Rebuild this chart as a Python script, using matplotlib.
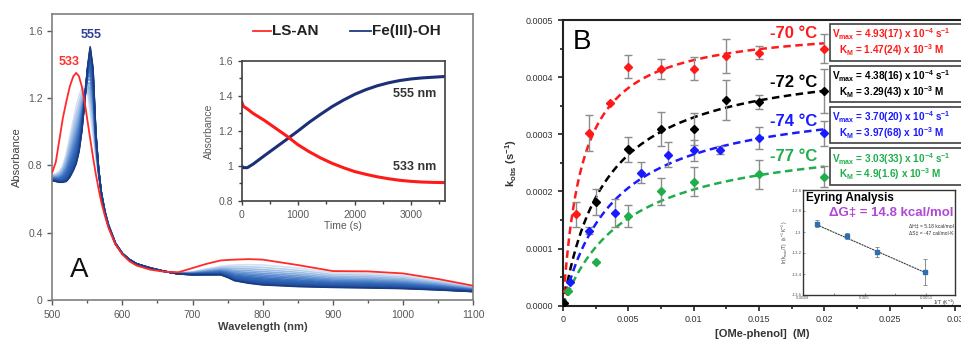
import numpy as np
import matplotlib
matplotlib.use('Agg')
import matplotlib.pyplot as plt
from matplotlib.patches import Rectangle
from matplotlib.colors import LinearSegmentedColormap
from matplotlib.ticker import MultipleLocator, FixedLocator

plt.rcParams['font.family'] = ['Liberation Sans', 'DejaVu Sans']
plt.rcParams['mathtext.default'] = 'regular'

# ---------------- panel A : UV-vis spectra ----------------
wl = [500, 505, 510, 515, 520, 525, 530, 534, 538, 542, 546, 550, 554, 558, 562, 566,
      570, 575, 580, 590, 600, 610, 620, 640, 660, 680, 700, 720, 740, 750, 760, 780,
      800, 850, 900, 950, 1000, 1050, 1100]
abs_lsan = [0.76, 0.82, 0.95, 1.08, 1.18, 1.27, 1.33, 1.35, 1.33, 1.27, 1.18, 1.07, 0.96,
            0.85, 0.75, 0.66, 0.58, 0.50, 0.43, 0.33, 0.27, 0.23, 0.205, 0.18, 0.168, 0.165,
            0.19, 0.215, 0.235, 0.238, 0.24, 0.243, 0.24, 0.208, 0.172, 0.17, 0.158, 0.125, 0.085]
abs_first = [0.745, 0.75, 0.765, 0.80, 0.87, 0.97, 1.07, 1.15, 1.21, 1.26, 1.275, 1.24, 1.12,
             0.98, 0.85, 0.74, 0.64, 0.53, 0.455, 0.34, 0.278, 0.24, 0.215, 0.188, 0.17, 0.16,
             0.168, 0.185, 0.20, 0.205, 0.208, 0.21, 0.208, 0.19, 0.162, 0.158, 0.145, 0.115, 0.078]
abs_feoh = [0.71, 0.705, 0.70, 0.70, 0.705, 0.73, 0.77, 0.81, 0.88, 1.0, 1.17, 1.37, 1.505,
            1.38, 1.0, 0.78, 0.63, 0.52, 0.44, 0.335, 0.275, 0.24, 0.215, 0.19, 0.17, 0.155,
            0.15, 0.15, 0.15, 0.135, 0.115, 0.10, 0.09, 0.08, 0.075, 0.072, 0.068, 0.06, 0.05]
# conversion of each recorded trace (first light blue -> Fe(III)-OH)
trace_frac = [0, 0.12, 0.23, 0.33, 0.42, 0.50, 0.57, 0.64, 0.70, 0.75, 0.80, 0.84,
              0.88, 0.91, 0.94, 0.96, 0.98, 1.0]

# inset kinetics
t_kin = [0, 30, 100, 200, 400, 600, 800, 1000, 1200, 1400, 1600, 1800, 2000, 2200, 2400,
         2600, 2800, 3000, 3200, 3400, 3600]
a533 = [1.365, 1.34, 1.325, 1.30, 1.26, 1.215, 1.17, 1.12, 1.08, 1.045, 1.015, 0.99, 0.968,
        0.952, 0.938, 0.927, 0.918, 0.912, 0.908, 0.906, 0.905]
a555 = [1.0, 0.99, 0.99, 1.01, 1.058, 1.105, 1.152, 1.20, 1.25, 1.295, 1.338, 1.375, 1.408,
        1.435, 1.457, 1.474, 1.487, 1.496, 1.502, 1.506, 1.51]

# ---------------- panel B : saturation kinetics ----------------
temps = ['-70 °C', '-72 °C', '-74 °C', '-77 °C']
cols = ['#ff1a1a', '#000000', '#1a1aff', '#1fae4b']
vmax = [4.93e-4, 4.38e-4, 3.70e-4, 3.03e-4]
km = [1.47e-3, 3.29e-3, 3.97e-3, 4.9e-3]
vmax_txt = ['4.93(17)', '4.38(16)', '3.70(20)', '3.03(33)']
km_txt = ['1.47(24)', '3.29(43)', '3.97(68)', '4.9(1.6)']

conc_70 = [0.0003, 0.001, 0.002, 0.0036, 0.005, 0.0075, 0.01, 0.0125, 0.015, 0.02]
k_70 = [0.000025, 0.00016, 0.000302, 0.000354, 0.000418, 0.000414, 0.000415, 0.000437, 0.000443, 0.00045]
e_70 = [0, 0.000022, 0.000032, 0, 0.00002, 0.000018, 0.00002, 0.00003, 0.000012, 0.000026]

conc_72 = [0.0001, 0.0025, 0.005, 0.0075, 0.01, 0.0125, 0.015, 0.02]
k_72 = [0.000005, 0.000182, 0.000274, 0.000309, 0.00031, 0.00036, 0.000357, 0.000376]
e_72 = [0, 0.000023, 0.000022, 0.00003, 0.000028, 0.000035, 0.000012, 0.000038]

conc_74 = [0.0005, 0.002, 0.004, 0.006, 0.008, 0.01, 0.012, 0.015, 0.02]
k_74 = [0.000042, 0.000131, 0.000162, 0.000233, 0.000264, 0.000272, 0.000272, 0.000294, 0.000302]
e_74 = [0, 0.000006, 0.000025, 0.000019, 0.000022, 0.000018, 0.000007, 0.000019, 0.000022]

conc_77 = [0.0004, 0.0025, 0.005, 0.0075, 0.01, 0.015, 0.02]
k_77 = [0.000025, 0.000077, 0.000157, 0.0002, 0.000217, 0.00023, 0.000226]
e_77 = [0, 0, 0.00002, 0.000023, 0.000025, 0.000025, 0.000018]

# Eyring inset
inv_T = [0.004922, 0.004971, 0.005021, 0.005098]
ln_k = [-12.92, -13.04, -13.19, -13.38]
ln_err = [0.03, 0.03, 0.045, 0.12]
eyr_fit_x = [0.004922, 0.005098]
eyr_fit_y = [-12.93, -13.385]

W, H = 961, 341
fig = plt.figure(figsize=(W / 100, H / 100), dpi=100)

def fbox(x0, y0, x1, y1):
    # pixel box (top-left origin) -> figure fraction rect
    return [x0 / W, 1 - y1 / H, (x1 - x0) / W, (y1 - y0) / H]

# ================= panel A =================
gA = '#595959'
axA = fig.add_axes(fbox(52.3, 14, 473, 300))
first = np.array(abs_first)
last = np.array(abs_feoh)
fan = LinearSegmentedColormap.from_list('fan', ['#d2e0f2', '#86addf', '#3a70c0', '#1d4c9c'])
for f in trace_frac:
    c = fan(f) if f < 1 else '#1c3a80'
    axA.plot(wl, (1 - f) * first + f * last, color=c, lw=1.2, zorder=2)
axA.plot(wl, abs_lsan, color='#ff2a2a', lw=1.3, zorder=3)
axA.set_xlim(500, 1100)
axA.set_ylim(0, 1.7)
axA.xaxis.set_major_locator(MultipleLocator(100))
axA.xaxis.set_minor_locator(MultipleLocator(50))
axA.yaxis.set_major_locator(FixedLocator([0, 0.4, 0.8, 1.2, 1.6]))
axA.set_yticklabels(['0', '0.4', '0.8', '1.2', '1.6'])
axA.tick_params(which='both', direction='out', color=gA, labelcolor=gA, labelsize=7.5, width=1)
axA.tick_params(which='major', length=3.5)
axA.tick_params(which='minor', length=2.5)
for s in axA.spines.values():
    s.set_color('#7f7f7f')
    s.set_linewidth(1.2)
axA.set_xlabel('Wavelength (nm)', fontsize=8, color='#404040', fontweight='bold', labelpad=2)
axA.set_ylabel('Absorbance', fontsize=8, color='#404040', labelpad=4)
axA.text(524, 1.415, '533', color='#ff3030', fontsize=9, fontweight='bold', ha='center', va='center')
axA.text(556, 1.578, '555', color='#2f3f8f', fontsize=9, fontweight='bold', ha='center', va='center')
axA.text(538, 0.18, 'A', fontsize=20, ha='center', va='center', color='#111111')
# legend
axA.plot([786, 812], [1.6, 1.6], color='#ff2a2a', lw=1.3)
axA.text(814, 1.6, 'LS-AN', fontsize=11, fontweight='bold', color='#222222', va='center')
axA.plot([925, 955], [1.6, 1.6], color='#1c3a80', lw=1.3)
axA.text(956, 1.6, 'Fe(III)-OH', fontsize=11, fontweight='bold', color='#222222', va='center')

# inset kinetics
axI = fig.add_axes(fbox(241.7, 60.7, 445, 201))
axI.plot(t_kin, a555, color='#1c2f78', lw=2.2)
axI.plot(t_kin, a533, color='#ff1a1a', lw=2.2)
axI.set_xlim(0, 3600)
axI.set_ylim(0.8, 1.6)
axI.xaxis.set_major_locator(MultipleLocator(1000))
axI.xaxis.set_minor_locator(MultipleLocator(500))
axI.yaxis.set_major_locator(FixedLocator([0.8, 1.0, 1.2, 1.4, 1.6]))
axI.yaxis.set_minor_locator(MultipleLocator(0.1))
axI.set_yticklabels(['0.8', '1', '1.2', '1.4', '1.6'])
axI.tick_params(which='both', direction='out', color='#404040', labelcolor=gA, labelsize=7.5, width=1)
axI.tick_params(which='major', length=3)
axI.tick_params(which='minor', length=2)
for s in axI.spines.values():
    s.set_color('#404040')
    s.set_linewidth(1.2)
axI.set_xlabel('Time (s)', fontsize=7.5, color=gA, labelpad=1)
axI.set_ylabel('Absorbance', fontsize=7.5, color=gA, labelpad=3)
axI.text(3060, 1.41, '555 nm', fontsize=9, fontweight='bold', color='#333333', ha='center', va='center')
axI.text(3060, 0.995, '533 nm', fontsize=9, fontweight='bold', color='#333333', ha='center', va='center')

# ================= panel B =================
axB = fig.add_axes(fbox(563, 20, 961, 305.7))
series = [(conc_70, k_70, e_70), (conc_72, k_72, e_72), (conc_74, k_74, e_74), (conc_77, k_77, e_77)]
xfit = np.linspace(0, 0.02, 200)
for (cx, ky, ey), c, vm, kmm in zip(series, cols, vmax, km):
    axB.plot(xfit, vm * xfit / (kmm + xfit), color=c, lw=1.8, ls=(0, (3, 1.8)), zorder=2)
    axB.errorbar(cx, ky, yerr=ey, fmt='none', ecolor='#8c8c8c', elinewidth=1, capsize=3, capthick=1, zorder=3)
    axB.plot(cx, ky, 'D', color=c, ms=4.5, zorder=4)
axB.set_xlim(0, 0.03046)
axB.set_ylim(0, 0.0005)
axB.xaxis.set_minor_locator(MultipleLocator(0.0025))
axB.yaxis.set_minor_locator(MultipleLocator(0.00005))
axB.set_xticks([0, 0.005, 0.01, 0.015, 0.02, 0.025, 0.03])
axB.set_xticklabels(['0', '0.005', '0.01', '0.015', '0.02', '0.025', '0.03'])
axB.set_yticks([0, 0.0001, 0.0002, 0.0003, 0.0004, 0.0005])
axB.set_yticklabels(['0.0000', '0.0001', '0.0002', '0.0003', '0.0004', '0.0005'])
axB.tick_params(which='both', direction='out', color='#222222', labelcolor='#333333', labelsize=6.5, width=1.2)
axB.tick_params(which='major', length=3.5)
axB.tick_params(which='minor', length=2)
axB.spines['right'].set_visible(False)
for s in ['left', 'bottom', 'top']:
    axB.spines[s].set_linewidth(1.5)
    axB.spines[s].set_color('#222222')
axB.set_xlabel('[OMe-phenol]  (M)', fontsize=8, fontweight='bold', color='#333333', labelpad=3)
axB.set_ylabel('k$_{obs}$ (s$^{-1}$)', fontsize=8, fontweight='bold', color='#333333', labelpad=5)
axB.text(0.00145, 0.000461, 'B', fontsize=20, ha='center', va='center')

label_y = [0.000477, 0.000390, 0.000322, 0.000261]
for lab, c, ly in zip(temps, cols, label_y):
    axB.text(0.01945, ly, lab, color=c, fontsize=12, fontweight='bold', ha='right', va='center')

box_y = [(24, 61), (65.7, 102.3), (106.7, 143.3), (148.3, 185)]
for (y0, y1), c, vt, kt in zip(box_y, cols, vmax_txt, km_txt):
    fig.patches.append(Rectangle((829.5 / W, 1 - y1 / H), 140 / W, (y1 - y0) / H,
                                 transform=fig.transFigure, facecolor='white',
                                 edgecolor='#404040', lw=1.2, zorder=5))
    fig.text(832 / W, 1 - (y0 + 10.5) / H, 'V$_{max}$ = ' + vt + ' x 10$^{-4}$ s$^{-1}$',
             color=c, fontsize=7.2, fontweight='bold', va='center', zorder=6)
    fig.text(839 / W, 1 - (y0 + 26) / H, 'K$_{M}$ = ' + kt + ' x 10$^{-3}$ M',
             color=c, fontsize=7.2, fontweight='bold', va='center', zorder=6)

# Eyring inset
axE = fig.add_axes(fbox(803, 190, 955, 295))
axE.plot(eyr_fit_x, eyr_fit_y, color='#404040', lw=0.8, ls=(0, (2, 0.6)))
axE.errorbar(inv_T, ln_k, yerr=ln_err, fmt='none', ecolor='#8c8c8c', elinewidth=0.7, capsize=1.5, capthick=0.7)
axE.plot(inv_T, ln_k, 's', color='#2e6fb0', ms=2.5)
axE.set_xlim(0.0049, 0.005147)
axE.set_ylim(-13.6, -12.6)
axE.set_xticks([0.0049, 0.005, 0.0051])
axE.set_xticks([0.00495, 0.00505], minor=True)
axE.set_xticklabels(['0.0049', '0.005', '0.0051'])
axE.set_yticks([-12.6, -12.8, -13.0, -13.2, -13.4, -13.6])
axE.set_yticklabels(['-12.6', '-12.8', '-13', '-13.2', '-13.4', '-13.6'])
axE.tick_params(which='both', direction='in', labelsize=3.2, labelcolor='#555555', color='#666666', length=1.5, width=0.5, pad=1)
for s in axE.spines.values():
    s.set_linewidth(1.0)
    s.set_color('#333333')
axE.set_ylabel('ln(k$_{max}$/T)  (s$^{-1}$ K$^{-1}$)', fontsize=3.5, color='#444444', labelpad=1)
axE.text(1.0, -0.03, '1/T (K$^{-1}$)', transform=axE.transAxes, fontsize=3.8, color='#333333', ha='right', va='top')
axE.text(0.02, 0.985, 'Eyring Analysis', transform=axE.transAxes, fontsize=8.5, fontweight='bold', va='top', ha='left')
axE.text(0.99, 0.78, 'ΔG‡ = 14.8 kcal/mol', transform=axE.transAxes, fontsize=9.5, fontweight='bold',
         color='#b048d8', va='center', ha='right')
axE.text(0.99, 0.66, 'ΔH‡ = 5.18 kcal/mol', transform=axE.transAxes, fontsize=3.6, color='#333333', ha='right', va='center')
axE.text(0.99, 0.59, 'ΔS‡ = -47 cal/mol·K', transform=axE.transAxes, fontsize=3.6, color='#333333', ha='right', va='center')

fig.savefig('out.png', dpi=100)
